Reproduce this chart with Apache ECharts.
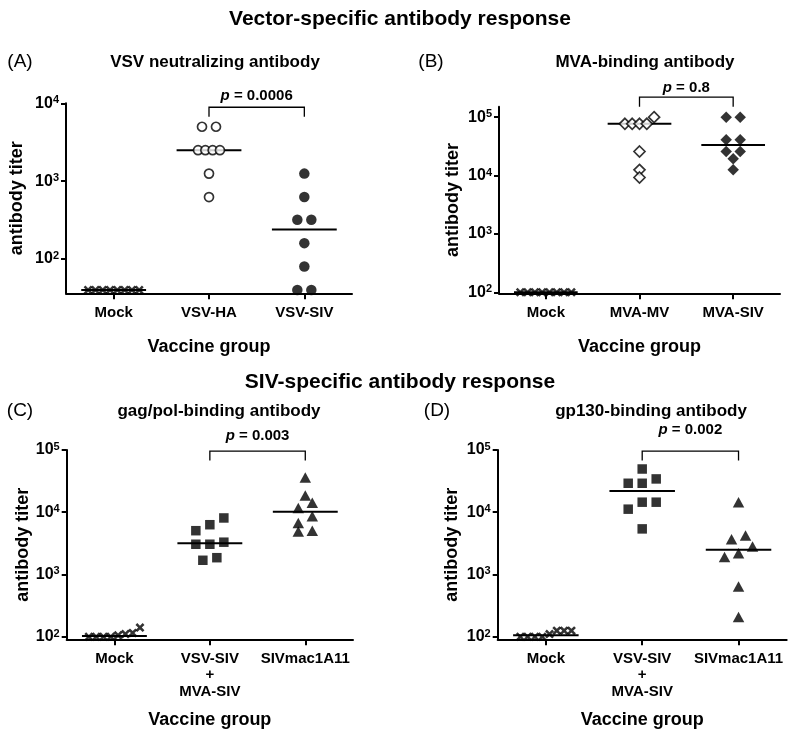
<!DOCTYPE html>
<html><head><meta charset="utf-8">
<script src="https://cdn.jsdelivr.net/npm/echarts@6/dist/echarts.min.js"></script>
<style>html,body{margin:0;padding:0;background:#fff}#c{width:800px;height:740px}</style>
</head><body><div id="c"></div>
<script>
// ---------- data ----------
const catsA = ['Mock', 'VSV-HA', 'VSV-SIV'];
const mockA = [40, 40, 40, 40, 40, 40, 40, 40];
const vsvHA = [5000, 5000, 2500, 2500, 2500, 2500, 1250, 625];
const vsvSIV = [1250, 625, 320, 320, 160, 80, 40, 40];

const catsB = ['Mock', 'MVA-MV', 'MVA-SIV'];
const mockB = [100, 100, 100, 100, 100, 100, 100, 100];
const mvaMV = [100000, 76900, 76900, 76900, 76900, 25800, 12500, 9250];
const mvaSIV = [100000, 100000, 41000, 41000, 25900, 25900, 19300, 12500];

const catsC = ['Mock', 'VSV-SIV\n+\nMVA-SIV', 'SIVmac1A11'];
const mockC = [100, 100, 115, 100, 110, 105, 140, 100];
const gagPrime = [8090, 6300, 5050, 3300, 3060, 3060, 1860, 1690];
const gagSIVmac = [36000, 18600, 14200, 11700, 8600, 6700, 5050, 4920];

const catsD = ['Mock', 'VSV-SIV\n+\nMVA-SIV', 'SIVmac1A11'];
const mockD = [100, 100, 125, 100, 125, 100, 125, 110];
const gpPrime = [49500, 34300, 29200, 29200, 14500, 14500, 11200, 5400];
const gpSIVmac = [14500, 4230, 3690, 2810, 2200, 1900, 641, 207];

const yTicksA = [100, 1000, 10000];
const yTicksB = [100, 1000, 10000, 100000];
const yTicksC = [100, 1000, 10000, 100000];
const yTicksD = [100, 1000, 10000, 100000];

const pValA = '0.0006', pValB = '0.8', pValC = '0.003', pValD = '0.002';

// ---------- styling ----------
const F = '"Liberation Sans", Arial, Helvetica, sans-serif';
const BLK = '#000';
const xPath = 'path://M0,2L2,0L5,3L8,0L10,2L7,5L10,8L8,10L5,7L2,10L0,8L3,5Z';
const SYM = {
  cross: {symbol: xPath, symbolSize: 9, itemStyle: {color: BLK}},
  openCircle: {symbol: 'circle', symbolSize: 9, itemStyle: {color: '#fff', borderColor: BLK, borderWidth: 1.7}},
  circle: {symbol: 'circle', symbolSize: 10.5, itemStyle: {color: BLK}},
  openDiamond: {symbol: 'diamond', symbolSize: 11, itemStyle: {color: '#fff', borderColor: BLK, borderWidth: 1.7}},
  diamond: {symbol: 'diamond', symbolSize: 11.5, itemStyle: {color: BLK}},
  square: {symbol: 'rect', symbolSize: 9.5, itemStyle: {color: BLK}},
  triangle: {symbol: 'triangle', symbolSize: [11.5, 10.5], itemStyle: {color: BLK}}
};

const panels = [
  {label: '(A)', title: 'VSV neutralizing antibody', cats: catsA, groups: [mockA, vsvHA, vsvSIV],
   syms: ['cross', 'openCircle', 'circle'], ticks: yTicksA, yMin: 36.3, yMax: 10000,
   grid: {left: 66, top: 103.3, width: 286, height: 190}, nameGap: 40, xNameGap: 45,
   p: pValA, bracketLevel: 8900, textGap: 11, labelPos: [20, 62], titlePos: [215, 62]},
  {label: '(B)', title: 'MVA-binding antibody', cats: catsB, groups: [mockB, mvaMV, mvaSIV],
   syms: ['cross', 'openDiamond', 'diamond'], ticks: yTicksB, yMin: 96, yMax: 151000,
   grid: {left: 499, top: 106.7, width: 281, height: 186.6}, nameGap: 37, xNameGap: 45,
   p: pValB, bracketLevel: 220000, textGap: 9, labelPos: [431, 62], titlePos: [645, 62]},
  {label: '(C)', title: 'gag/pol-binding antibody', cats: catsC, groups: [mockC, gagPrime, gagSIVmac],
   syms: ['cross', 'square', 'triangle'], ticks: yTicksC, yMin: 90.8, yMax: 100000,
   grid: {left: 66.7, top: 450, width: 286.3, height: 189.3}, nameGap: 35, xNameGap: 72,
   p: pValC, bracketLevel: 96000, textGap: 15, labelPos: [20, 411], titlePos: [219, 411]},
  {label: '(D)', title: 'gp130-binding antibody', cats: catsD, groups: [mockD, gpPrime, gpSIVmac],
   syms: ['cross', 'square', 'triangle'], ticks: yTicksD, yMin: 90.8, yMax: 100000,
   grid: {left: 497.7, top: 450, width: 289, height: 189.3}, nameGap: 37, xNameGap: 72,
   p: pValD, bracketLevel: 96000, textGap: 21, labelPos: [437, 411], titlePos: [651, 411]}
];

function median(arr) {
  const s = arr.slice().sort((a, b) => a - b);
  const n = s.length;
  return n % 2 ? s[(n - 1) / 2] : (s[n / 2 - 1] + s[n / 2]) / 2;
}

// ---------- option ----------
const grids = [], xAxes = [], yAxes = [], series = [], graphics = [];

graphics.push({type: 'text', x: 400, y: 19, style: {text: 'Vector-specific antibody response', font: 'bold 21px ' + F, fill: BLK, align: 'center', verticalAlign: 'middle'}});
graphics.push({type: 'text', x: 400, y: 382, style: {text: 'SIV-specific antibody response', font: 'bold 21px ' + F, fill: BLK, align: 'center', verticalAlign: 'middle'}});

panels.forEach((P, gi) => {
  grids.push(Object.assign({containLabel: false}, P.grid));
  graphics.push({type: 'text', x: P.labelPos[0], y: P.labelPos[1], style: {text: P.label, font: '19px ' + F, fill: BLK, align: 'center', verticalAlign: 'middle'}});
  graphics.push({type: 'text', x: P.titlePos[0], y: P.titlePos[1], style: {text: P.title, font: 'bold 17px ' + F, fill: BLK, align: 'center', verticalAlign: 'middle'}});

  xAxes.push({
    type: 'category', gridIndex: gi, data: P.cats, boundaryGap: true,
    axisLine: {show: true, onZero: false, lineStyle: {color: BLK, width: 2}},
    axisTick: {show: true, alignWithLabel: true, length: 6, lineStyle: {color: BLK, width: 2}},
    axisLabel: {interval: 0, fontSize: 15, fontWeight: 'bold', fontFamily: F, color: BLK, margin: 11, lineHeight: 16.5},
    splitLine: {show: false},
    name: 'Vaccine group', nameLocation: 'middle', nameGap: P.xNameGap,
    nameTextStyle: {fontSize: 18, fontWeight: 'bold', fontFamily: F, color: BLK}
  });
  yAxes.push({
    type: 'log', logBase: 10, gridIndex: gi, min: P.yMin, max: P.yMax,
    axisLine: {show: true, onZero: false, lineStyle: {color: BLK, width: 2}},
    axisTick: {show: true, length: 5, customValues: P.ticks, lineStyle: {color: BLK, width: 2}},
    minorTick: {show: false},
    axisLabel: {
      customValues: P.ticks, margin: 7,
      formatter: v => '{b|10}{s|' + Math.round(Math.log10(v)) + '}',
      rich: {
        b: {fontSize: 16, fontWeight: 'bold', fontFamily: F, color: BLK, lineHeight: 17},
        s: {fontSize: 11, fontWeight: 'bold', fontFamily: F, color: BLK, lineHeight: 11, verticalAlign: 'top'}
      }
    },
    splitLine: {show: false},
    name: 'antibody titer', nameLocation: 'middle', nameGap: P.nameGap,
    nameTextStyle: {fontSize: 18, fontWeight: 'bold', fontFamily: F, color: BLK}
  });

  // median lines
  series.push({
    type: 'custom', xAxisIndex: gi, yAxisIndex: gi, z: 2, silent: true,
    data: P.groups.map((g, ci) => [ci, median(g)]),
    renderItem: (params, api) => {
      const c = api.coord([api.value(0), api.value(1)]);
      const hw = params.coordSys.width / P.cats.length * 0.34;
      return {type: 'line', shape: {x1: c[0] - hw, y1: c[1], x2: c[0] + hw, y2: c[1]}, style: {stroke: BLK, lineWidth: 2}};
    }
  });
  // scatter groups
  P.groups.forEach((g, ci) => {
    const s = SYM[P.syms[ci]];
    series.push(Object.assign({
      id: 'sc' + gi + '_' + ci, type: 'scatter', xAxisIndex: gi, yAxisIndex: gi, z: 5, silent: true,
      data: g.map(v => ({value: [ci, v]}))
    }, JSON.parse(JSON.stringify(s))));
  });
  // significance bracket
  series.push({
    type: 'custom', xAxisIndex: gi, yAxisIndex: gi, z: 3, silent: true, clip: false,
    data: [[1, P.bracketLevel, 2]],
    renderItem: (params, api) => {
      const a = api.coord([api.value(0), api.value(1)]);
      const b = api.coord([api.value(2), api.value(1)]);
      const drop = 9.5;
      return {type: 'group', children: [
        {type: 'polyline', shape: {points: [[a[0], a[1] + drop], [a[0], a[1]], [b[0], a[1]], [b[0], a[1] + drop]]},
         style: {stroke: BLK, lineWidth: 1.3, fill: null}},
        {type: 'text', style: {x: (a[0] + b[0]) / 2, y: a[1] - P.textGap, text: '{i|p}{n| = ' + P.p + '}',
          align: 'center', verticalAlign: 'middle',
          rich: {i: {fontSize: 15, fontWeight: 'bold', fontStyle: 'italic', fontFamily: F, fill: BLK},
                 n: {fontSize: 15, fontWeight: 'bold', fontFamily: F, fill: BLK}}}}
      ]};
    }
  });
});

const chart = echarts.init(document.getElementById('c'), null, {renderer: 'canvas'});
chart.setOption({
  animation: false, backgroundColor: '#fff',
  grid: grids, xAxis: xAxes, yAxis: yAxes, series: series, graphic: graphics
});

// ---------- spread overlapping points horizontally (dot-plot layout) ----------
function swarmOffsets(ys) {
  const idx = ys.map((y, i) => i).sort((a, b) => ys[b] - ys[a]);
  const rows = [];
  let cur = [idx[0]];
  for (let k = 1; k < idx.length; k++) {
    if (Math.abs(ys[idx[k]] - ys[cur[cur.length - 1]]) < 7) cur.push(idx[k]);
    else { rows.push(cur); cur = [idx[k]]; }
  }
  rows.push(cur);
  const off = ys.map(() => 0);
  rows.forEach(r => {
    const n = r.length, step = n <= 3 ? 14 : 7.3;
    r.forEach((pi, j) => { off[pi] = (j - (n - 1) / 2) * step; });
  });
  return off;
}
const upd = [];
panels.forEach((P, gi) => {
  P.groups.forEach((g, ci) => {
    const ys = g.map(v => chart.convertToPixel({gridIndex: gi}, [ci, v])[1]);
    const off = swarmOffsets(ys);
    upd.push({id: 'sc' + gi + '_' + ci, data: g.map((v, k) => ({value: [ci, v], symbolOffset: [off[k], 0]}))});
  });
});
chart.setOption({series: upd});
</script>
</body></html>
